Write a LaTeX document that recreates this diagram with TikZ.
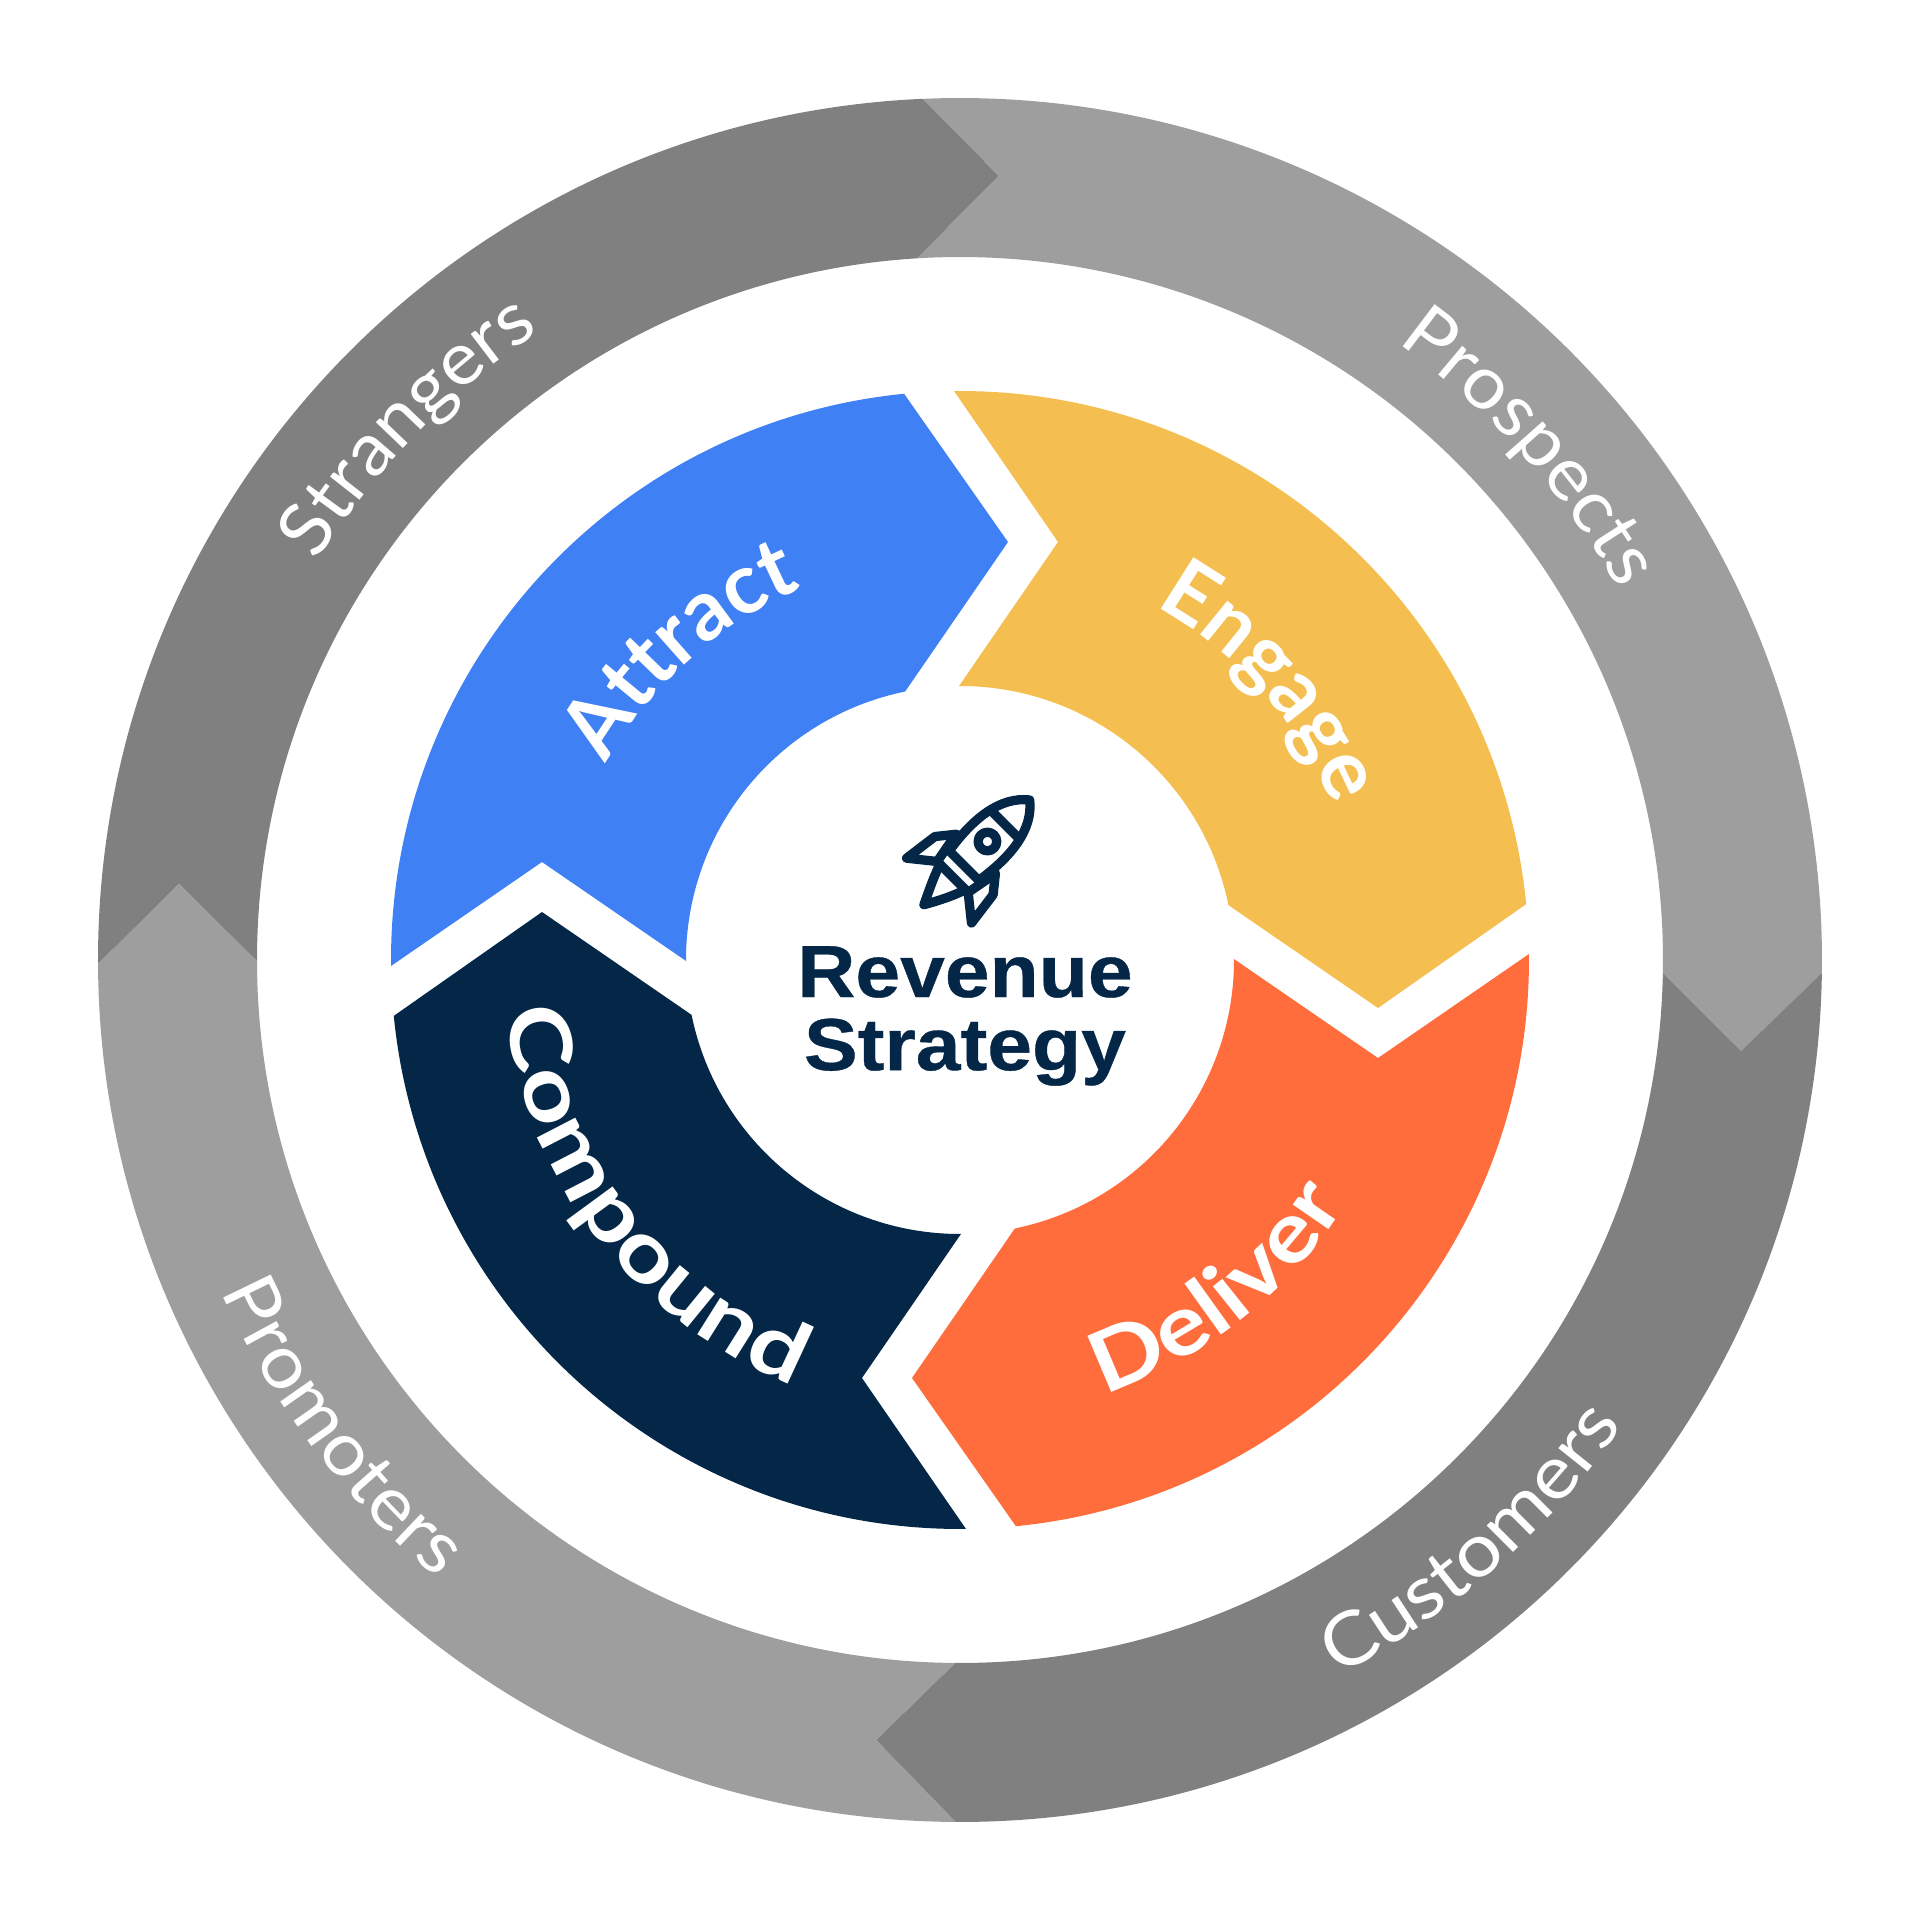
\documentclass[tikz,border=0pt]{standalone}
\usepackage{xcolor}
\usepackage{fontspec}
\usetikzlibrary{decorations.text}

\newfontfamily\ringfont{Lato}
\newfontfamily\titlefont[FakeStretch=1.09,FakeBold=0.5]{Liberation Sans}

\definecolor{ringdark}{HTML}{808080}
\definecolor{ringlight}{HTML}{9E9E9E}
\definecolor{attractblue}{HTML}{4080F5}
\definecolor{engageyellow}{HTML}{F4BF50}
\definecolor{deliverorange}{HTML}{FF6D3C}
\definecolor{compoundnavy}{HTML}{052747}

\newcommand{\ringlook}[1]{\ringfont\fontsize{21}{21}\selectfont\addfontfeature{FakeStretch=#1}\color{white}}
\newcommand{\petallook}[1]{\ringfont\bfseries\fontsize{24}{24}\selectfont\addfontfeature{FakeStretch=#1}\color{white}}

\begin{document}
\begin{tikzpicture}[
    curved/.style={
      decorate,
      decoration={text along path, text align=center, text={#1}}
    },
    rocket/.style={
      draw=compoundnavy, line width=0.093cm, line join=round, line cap=round
    },
  ]
  \useasboundingbox (-9.6,-9.6) rectangle (9.6,9.6);

  % Outer ring
  \fill[ringdark] (180.27:8.62) arc[start angle=180.27, end angle=92.46, radius=8.62]
    -- (0.39,7.84) -- (93.5:7.03) arc[start angle=93.5, end angle=180.1, radius=7.03]
    -- (-7.81,0.76) -- cycle;
  \fill[ringlight] (92.46:8.62) arc[start angle=92.46, end angle=-0.86, radius=8.62]
    -- (7.81,-0.91) -- (-1.06:7.03) arc[start angle=-1.06, end angle=93.5, radius=7.03]
    -- (0.39,7.84) -- cycle;
  \fill[ringdark] (-0.86:8.62) arc[start angle=-0.86, end angle=-90.3, radius=8.62]
    -- (-0.84,-7.80) -- (-90.4:7.03) arc[start angle=-90.4, end angle=-1.06, radius=7.03]
    -- (7.81,-0.91) -- cycle;
  \fill[ringlight] (-90.3:8.62) arc[start angle=-90.3, end angle=-179.73, radius=8.62]
    -- (-7.81,0.76) -- (-179.9:7.03) arc[start angle=-179.9, end angle=-90.4, radius=7.03]
    -- (-0.84,-7.80) -- cycle;

  % Inner arrows
  \fill[attractblue] (180.6:5.69) arc[start angle=180.6, end angle=95.64, radius=5.69]
    -- (0.48,4.18) -- (101.55:2.74) arc[start angle=101.55, end angle=180.2, radius=2.74]
    -- (-4.18,0.98) -- cycle;
  \fill[engageyellow] (90.6:5.69) arc[start angle=90.6, end angle=5.64, radius=5.69]
    -- (4.18,-0.48) -- (11.55:2.74) arc[start angle=11.55, end angle=90.2, radius=2.74]
    -- (0.98,4.18) -- cycle;
  \fill[deliverorange] (0.6:5.69) arc[start angle=0.6, end angle=-84.36, radius=5.69]
    -- (-0.48,-4.18) -- (-78.45:2.74) arc[start angle=-78.45, end angle=0.2, radius=2.74]
    -- (4.18,-0.98) -- cycle;
  \fill[compoundnavy] (-89.4:5.69) arc[start angle=-89.4, end angle=-174.36, radius=5.69]
    -- (-4.18,0.48) -- (-168.45:2.74) arc[start angle=-168.45, end angle=-89.8, radius=2.74]
    -- (-0.98,-4.18) -- cycle;

  % Ring labels
  \path[curved={|\ringlook{1.05}|Strangers}] (176:7.56) arc[start angle=176, end angle=96, radius=7.56];
  \path[curved={|\ringlook{1.05}|Prospects}] (82:7.56) arc[start angle=82, end angle=2, radius=7.56];
  \path[curved={|\ringlook{1.1}|Customers}] (-88.6:8.1) arc[start angle=-88.6, end angle=-8.6, radius=8.1];
  \path[curved={|\ringlook{1.07}|Promoters}] (-183:8.1) arc[start angle=-183, end angle=-103, radius=8.1];

  % Arrow labels
  \path[curved={|\petallook{1}|Attract}] (182:4.04) arc[start angle=182, end angle=82, radius=4.04];
  \path[curved={|\petallook{1}|Engage}] (91.7:4.04) arc[start angle=91.7, end angle=-8.3, radius=4.04];
  \path[curved={|\petallook{1.15}|Deliver}] (-102:4.57) arc[start angle=-102, end angle=-2, radius=4.57];
  \path[curved={|\petallook{1.2}|Compound}] (-192.5:4.57) arc[start angle=-192.5, end angle=-92.5, radius=4.57];

  % Centre
  \node[font=\titlefont\bfseries\fontsize{21}{20.8}\selectfont, text=compoundnavy, align=center, inner sep=0pt]
    (title) at (0.05,-0.56) {Revenue\\Strategy};

  % Rocket, in pixels of the icon
  \begin{scope}[shift={(-0.7,1.75)}, x=0.003333cm, y=-0.003333cm]
    \draw[rocket] (420,45) .. controls (330,35) and (250,100) .. (178,198)
      -- (267,287) .. controls (365,215) and (430,135) .. (420,45) -- cycle;
    \draw[rocket] (305,78) -- (387,160);
    \draw[rocket] (293,170) circle[radius=28];
    % band
    \draw[rocket] (190,160) -- (142,230) -- (235,323) -- (305,275);
    % fins
    \draw[rocket] (200,148) -- (135,155) -- (50,220) -- (142,230);
    \draw[rocket] (317,265) -- (310,330) -- (245,415) -- (235,323);
    % flame
    \draw[rocket] (150,238) .. controls (130,280) and (120,310) .. (102,360)
      .. controls (155,345) and (185,335) .. (227,315);
  \end{scope}
\end{tikzpicture}
\end{document}
